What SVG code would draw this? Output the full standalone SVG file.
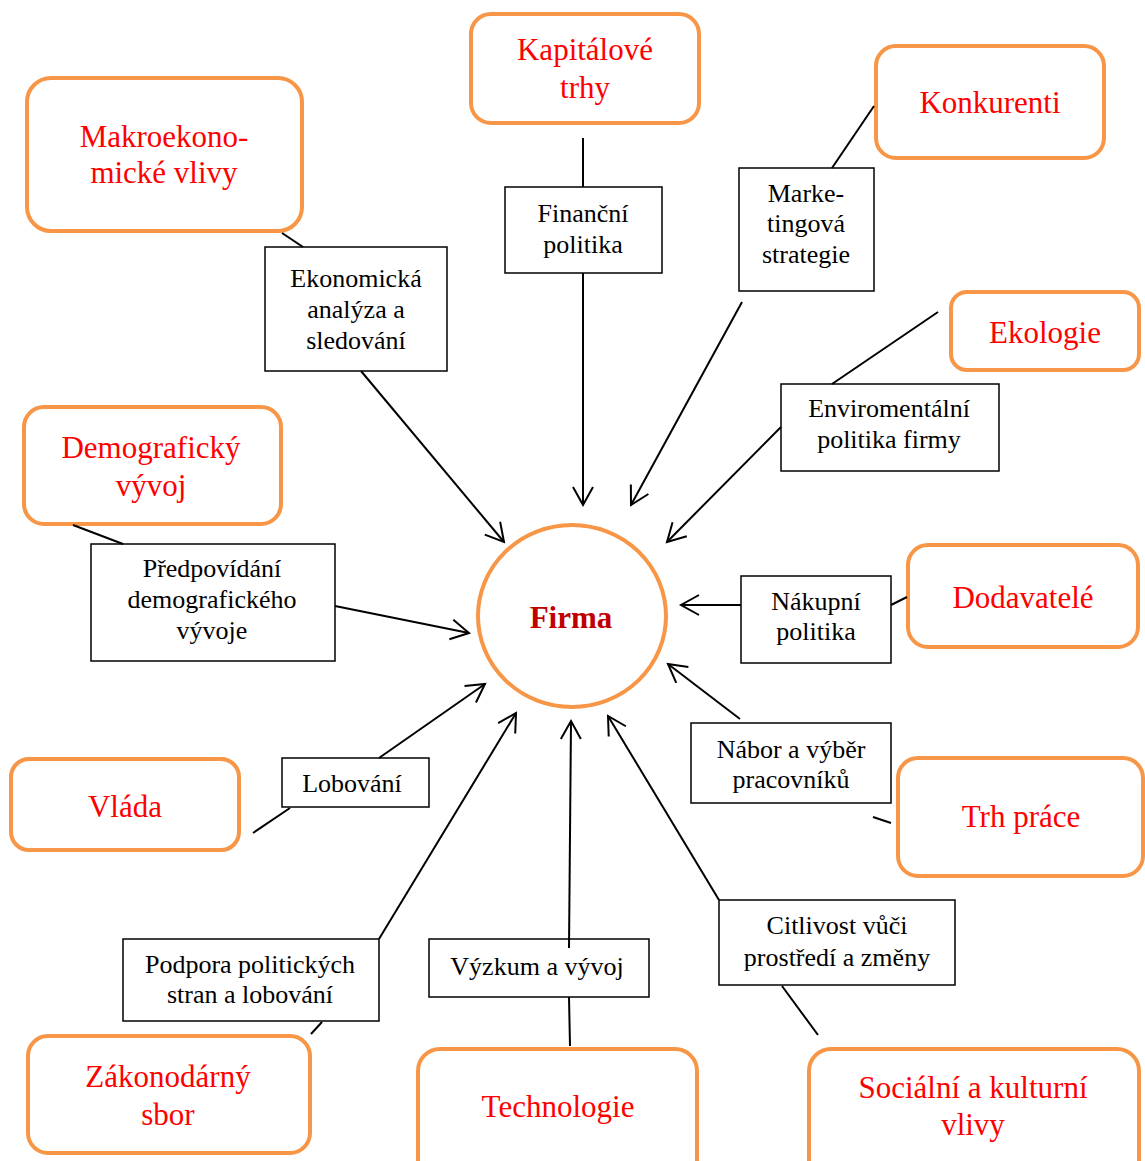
<svg xmlns="http://www.w3.org/2000/svg" width="1145" height="1161" viewBox="0 0 1145 1161">
<style>
.ob{fill:#fff;stroke:#F79646;stroke-width:4}
.bb{fill:#fff;stroke:#000;stroke-width:1.5}
.rt{font-family:"Liberation Serif","Times New Roman",serif;font-size:31px;fill:#FF0000;text-anchor:middle}
.bt{font-family:"Liberation Serif","Times New Roman",serif;font-size:26px;fill:#000;text-anchor:middle}
.ln{stroke:#000;stroke-width:2;fill:none}
.ar{marker-end:url(#ah)}
</style>
<defs>
<marker id="ah" markerUnits="userSpaceOnUse" viewBox="0 0 20 22" refX="19" refY="11" markerWidth="20" markerHeight="22" orient="auto" overflow="visible">
<path d="M1,1 L19,11 L1,21" fill="none" stroke="#000" stroke-width="2"/>
</marker>
</defs>
<rect width="1145" height="1161" fill="#fff"/>
<g id="firma">
<ellipse cx="572" cy="616" rx="94" ry="91" fill="#fff" stroke="#F79646" stroke-width="4"/>
<text x="571" y="628" font-family="Liberation Serif, Times New Roman, serif" font-size="31" font-weight="bold" fill="#C00000" text-anchor="middle">Firma</text>
</g>
<g id="makro"><rect class="ob" x="27" y="78" width="275" height="153" rx="24"/><text class="rt" x="164" y="147">Makroekono-</text><text class="rt" x="164" y="183">mické vlivy</text></g>
<g id="kapital"><rect class="ob" x="471" y="14" width="228" height="109" rx="20"/><text class="rt" x="585" y="60">Kapitálové</text><text class="rt" x="585" y="98">trhy</text></g>
<g id="konkurenti"><rect class="ob" x="876" y="46" width="228" height="112" rx="20"/><text class="rt" x="990" y="113">Konkurenti</text></g>
<g id="ekologie"><rect class="ob" x="951" y="292" width="188" height="78" rx="16"/><text class="rt" x="1045" y="343">Ekologie</text></g>
<g id="demograf"><rect class="ob" x="24" y="407" width="257" height="117" rx="20"/><text class="rt" x="151" y="458">Demografický</text><text class="rt" x="151" y="496">vývoj</text></g>
<g id="dodavatele"><rect class="ob" x="908" y="545" width="230" height="102" rx="20"/><text class="rt" x="1023" y="608">Dodavatelé</text></g>
<g id="vlada"><rect class="ob" x="11" y="759" width="228" height="91" rx="18"/><text class="rt" x="125" y="817">Vláda</text></g>
<g id="trhprace"><rect class="ob" x="898" y="758" width="245" height="118" rx="20"/><text class="rt" x="1021" y="827">Trh práce</text></g>
<g id="zakon"><rect class="ob" x="28" y="1036" width="282" height="117" rx="20"/><text class="rt" x="168" y="1087">Zákonodárný</text><text class="rt" x="168" y="1125">sbor</text></g>
<g id="technologie"><rect class="ob" x="418" y="1049" width="279" height="140" rx="22"/><text class="rt" x="558" y="1117">Technologie</text></g>
<g id="socialni"><rect class="ob" x="809" y="1049" width="330" height="140" rx="22"/><text class="rt" x="973" y="1098">Sociální a kulturní</text><text class="rt" x="973" y="1135">vlivy</text></g>
<g id="ekonomicka"><rect class="bb" x="265" y="247" width="182" height="124"/><text class="bt" x="356" y="287">Ekonomická</text><text class="bt" x="356" y="318">analýza a</text><text class="bt" x="356" y="349">sledování</text></g>
<g id="financni"><rect class="bb" x="505" y="187" width="157" height="86"/><text class="bt" x="583" y="222">Finanční</text><text class="bt" x="583" y="253">politika</text></g>
<g id="marketing"><rect class="bb" x="739" y="168" width="135" height="123"/><text class="bt" x="806" y="202">Marke-</text><text class="bt" x="806" y="232">tingová</text><text class="bt" x="806" y="263">strategie</text></g>
<g id="enviro"><rect class="bb" x="781" y="384" width="218" height="87"/><text class="bt" x="889" y="417">Enviromentální</text><text class="bt" x="889" y="448">politika firmy</text></g>
<g id="predpovidani"><rect class="bb" x="91" y="544" width="244" height="117"/><text class="bt" x="212" y="577">Předpovídání</text><text class="bt" x="212" y="608">demografického</text><text class="bt" x="212" y="639">vývoje</text></g>
<g id="nakupni"><rect class="bb" x="741" y="576" width="150" height="87"/><text class="bt" x="816" y="610">Nákupní</text><text class="bt" x="816" y="640">politika</text></g>
<g id="lobovani"><rect class="bb" x="282" y="758" width="147" height="49"/><text class="bt" x="352" y="792">Lobování</text></g>
<g id="nabor"><rect class="bb" x="691" y="723" width="200" height="80"/><text class="bt" x="791" y="758">Nábor a výběr</text><text class="bt" x="791" y="788">pracovníků</text></g>
<g id="podpora"><rect class="bb" x="123" y="939" width="256" height="82"/><text class="bt" x="250" y="973">Podpora politických</text><text class="bt" x="250" y="1003">stran a lobování</text></g>
<g id="vyzkum"><rect class="bb" x="429" y="939" width="220" height="58"/><text class="bt" x="537" y="975">Výzkum a vývoj</text></g>
<g id="citlivost"><rect class="bb" x="719" y="900" width="236" height="85"/><text class="bt" x="837" y="934">Citlivost vůči</text><text class="bt" x="837" y="966">prostředí a změny</text></g>
<g id="connectors">
<line class="ln" x1="282" y1="233" x2="303" y2="247"/>
<line class="ln ar" x1="361" y1="371" x2="504" y2="542"/>
<line class="ln" x1="583" y1="138" x2="583" y2="187"/>
<line class="ln ar" x1="583" y1="273" x2="583" y2="505"/>
<line class="ln" x1="874" y1="106" x2="832" y2="168"/>
<line class="ln ar" x1="742" y1="302" x2="631" y2="505"/>
<line class="ln" x1="938" y1="312" x2="832" y2="384"/>
<line class="ln ar" x1="781" y1="427" x2="667" y2="542"/>
<line class="ln" x1="73" y1="525" x2="123" y2="544"/>
<line class="ln ar" x1="335" y1="606" x2="469" y2="633"/>
<line class="ln" x1="907" y1="597" x2="891" y2="605"/>
<line class="ln ar" x1="741" y1="605" x2="681" y2="605"/>
<line class="ln" x1="253" y1="833" x2="290" y2="808"/>
<line class="ln ar" x1="379" y1="758" x2="485" y2="684"/>
<line class="ln" x1="873" y1="817" x2="891" y2="823"/>
<line class="ln ar" x1="740" y1="719" x2="668" y2="664"/>
<line class="ln" x1="311" y1="1034" x2="322" y2="1022"/>
<line class="ln ar" x1="379" y1="939" x2="516" y2="713"/>
<line class="ln" x1="570" y1="1046" x2="569" y2="997"/>
<line class="ln ar" x1="569" y1="948" x2="571" y2="721"/>
<line class="ln" x1="818" y1="1035" x2="782" y2="986"/>
<line class="ln ar" x1="719" y1="900" x2="608" y2="716"/>
</g>
</svg>
